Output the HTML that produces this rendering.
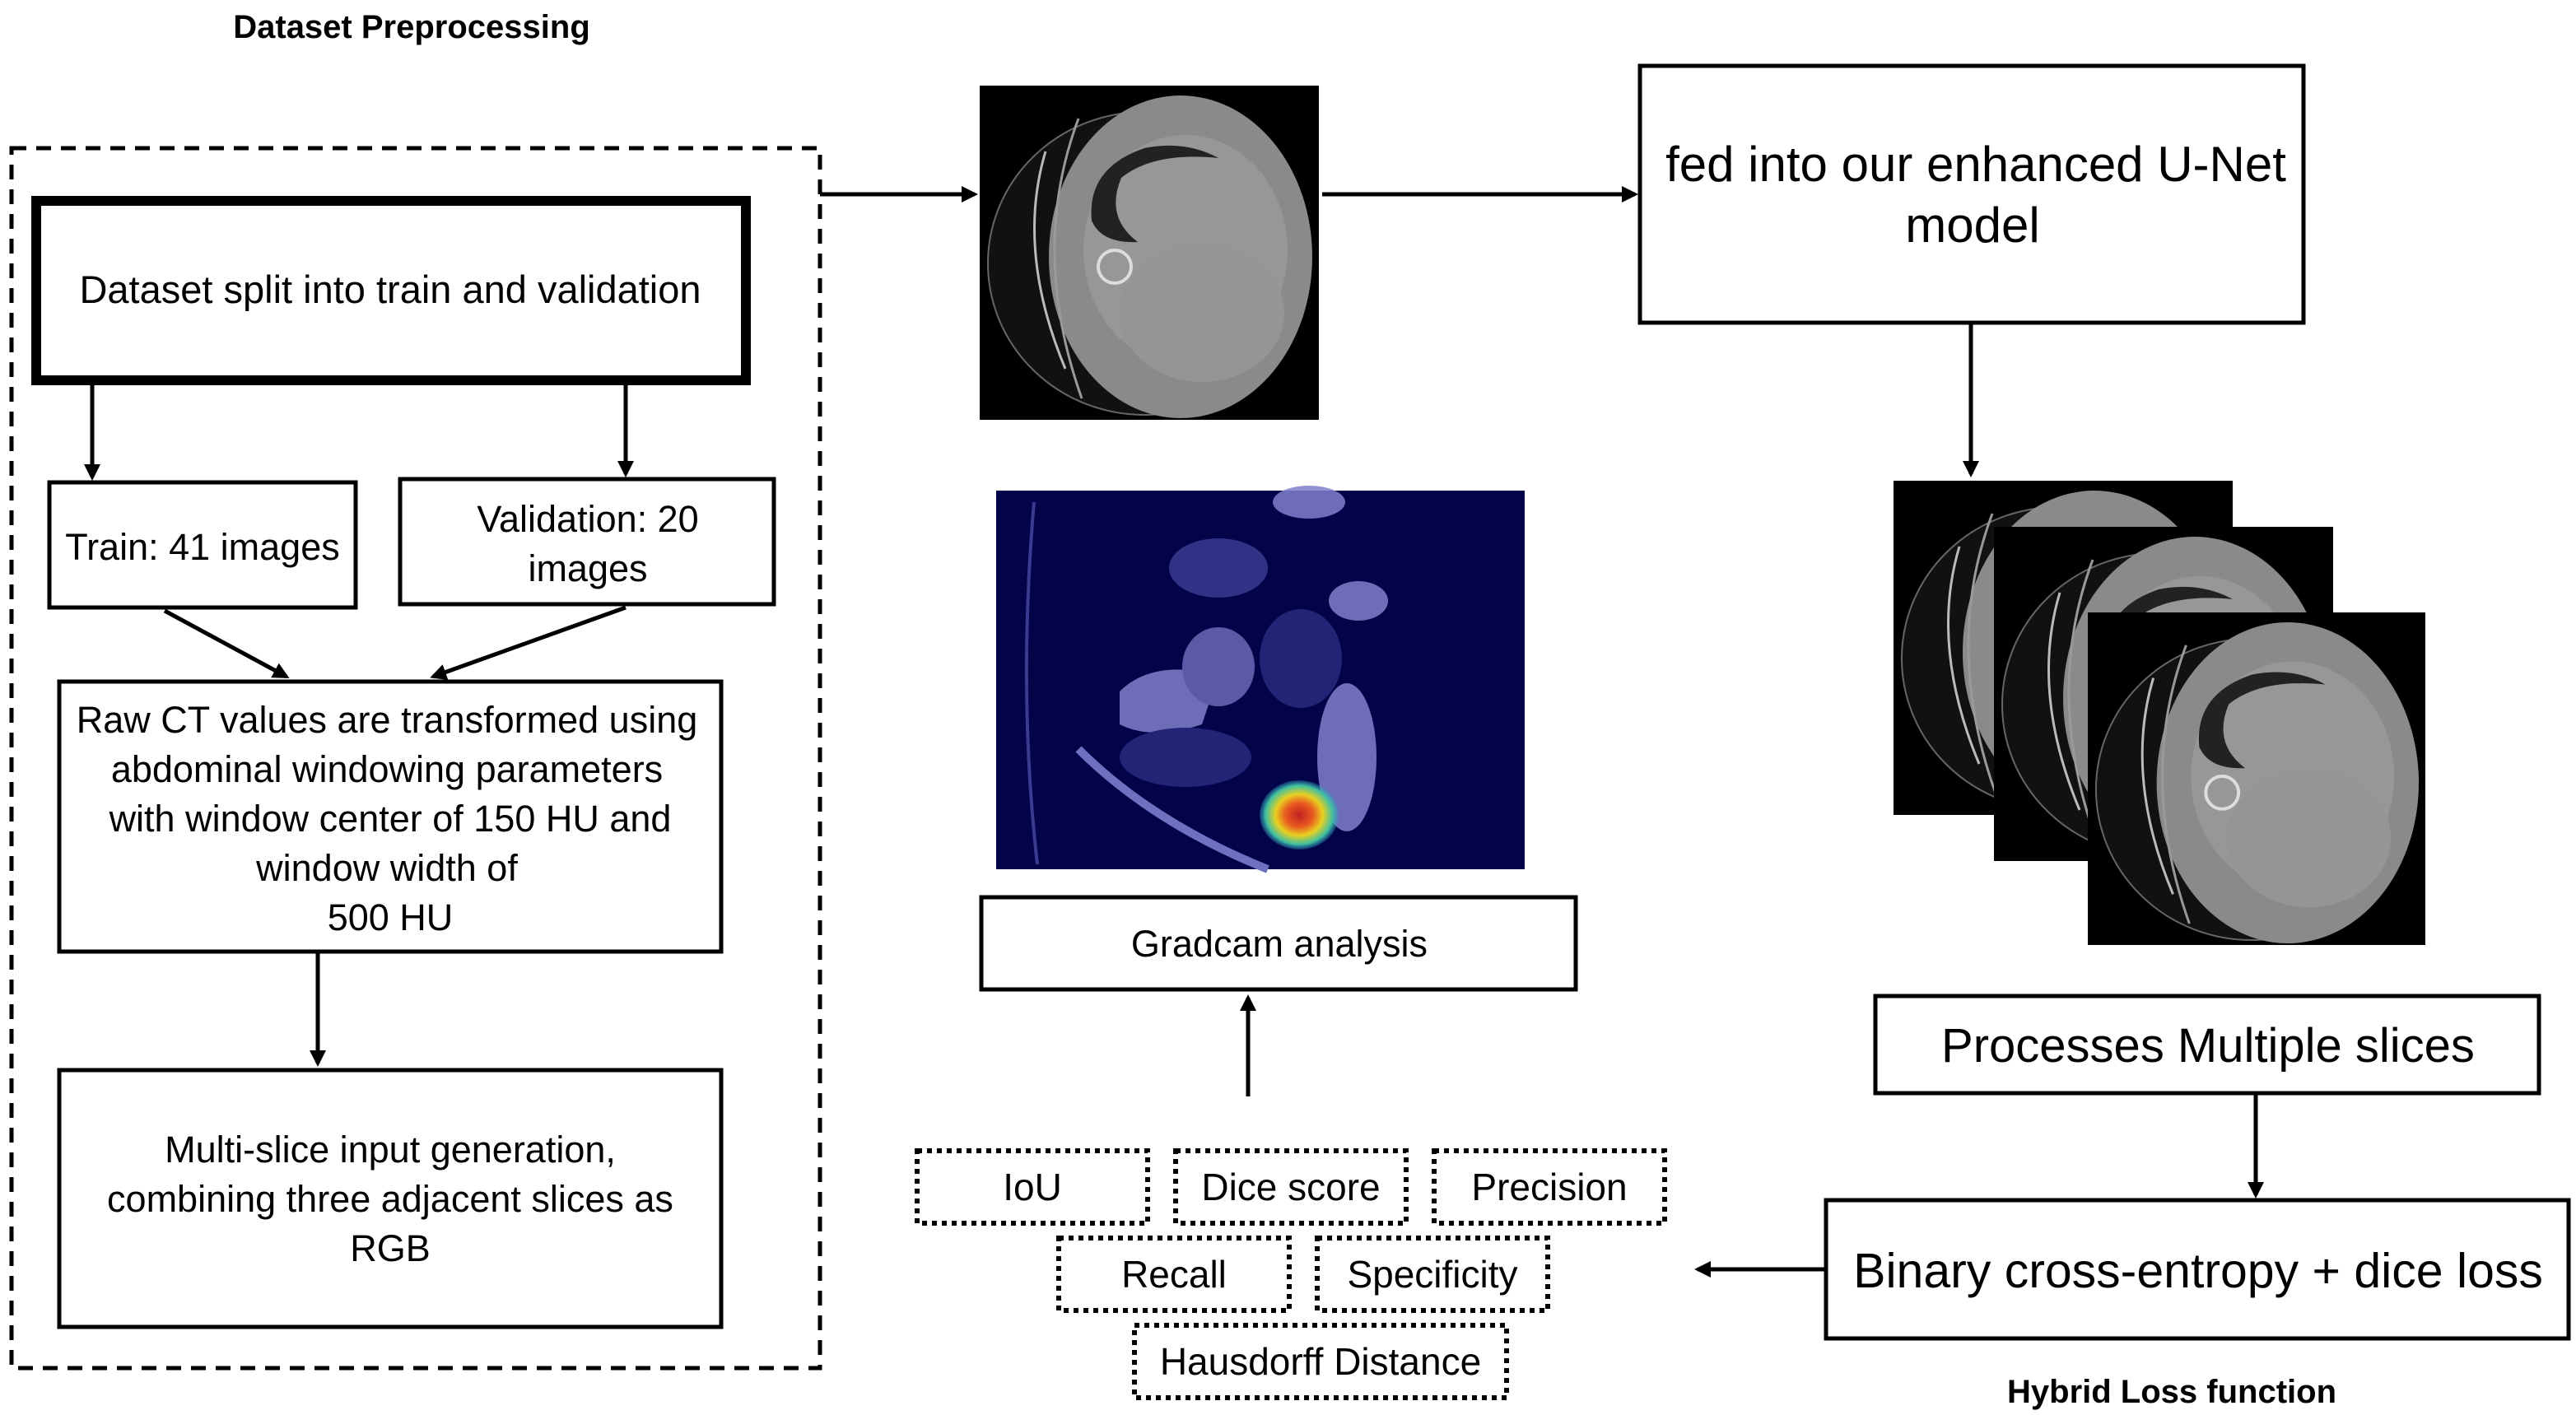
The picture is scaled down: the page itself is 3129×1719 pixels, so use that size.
<!DOCTYPE html>
<html><head><meta charset="utf-8"><style>
html,body{margin:0;padding:0;background:#fff;}
svg{display:block;}
text{font-family:"Liberation Sans",sans-serif;fill:#000;}
</style></head><body>
<svg width="3129" height="1719" viewBox="0 0 1564.5 859.5" xmlns="http://www.w3.org/2000/svg">
<defs>
<marker id="ah" markerWidth="10" markerHeight="10" refX="8" refY="5" orient="auto" markerUnits="userSpaceOnUse">
<path d="M0,0 L10,5 L0,10 z" fill="#000"/>
</marker>
<radialGradient id="hot" cx="50%" cy="50%" r="50%">
<stop offset="0" stop-color="#c02020"/><stop offset="0.35" stop-color="#e85a20"/><stop offset="0.6" stop-color="#e8d020"/><stop offset="0.85" stop-color="#40c0a0"/><stop offset="1" stop-color="#30a0c0" stop-opacity="0.3"/>
</radialGradient>
<symbol id="ct" viewBox="0 0 206 203">
<rect width="206" height="203" fill="#000"/>
<ellipse cx="100" cy="108" rx="95" ry="92" fill="#111" stroke="#666" stroke-width="1"/>
<ellipse cx="122" cy="104" rx="80" ry="98" fill="#8a8a8a"/>
<ellipse cx="125" cy="100" rx="62" ry="70" fill="#979797"/>
<path d="M100,38 Q65,50 68,82 Q74,96 96,95 Q76,80 86,56 Q106,40 145,44 Q125,33 100,38z" fill="#222"/>
<ellipse cx="135" cy="138" rx="50" ry="42" fill="#959595"/>
<circle cx="82" cy="110" r="10" fill="none" stroke="#ddd" stroke-width="2"/>
<path d="M40,40 Q22,100 52,172" stroke="#bbb" stroke-width="1.5" fill="none"/>
<path d="M60,20 Q30,100 62,190" stroke="#999" stroke-width="1.5" fill="none"/>
</symbol>
</defs>

<text x="250" y="23" font-size="20" font-weight="bold" text-anchor="middle">Dataset Preprocessing</text>
<rect x="7" y="90" width="491" height="741" fill="none" stroke="#000" stroke-width="2.5" stroke-dasharray="9,6"/>

<rect x="22" y="122" width="431" height="109" fill="#fff" stroke="#000" stroke-width="6"/>
<text x="237" y="184" font-size="23.5" text-anchor="middle">Dataset split into train and validation</text>

<g stroke="#000" stroke-width="2.5" fill="none">
<line x1="56" y1="233" x2="56" y2="290" marker-end="url(#ah)"/>
<line x1="380" y1="233" x2="380" y2="288" marker-end="url(#ah)"/>
<line x1="100" y1="371" x2="174" y2="411" marker-end="url(#ah)"/>
<line x1="380" y1="369" x2="263" y2="411" marker-end="url(#ah)"/>
<line x1="193" y1="578" x2="193" y2="646" marker-end="url(#ah)"/>
<line x1="498" y1="118" x2="592" y2="118" marker-end="url(#ah)"/>
<line x1="803" y1="118" x2="993" y2="118" marker-end="url(#ah)"/>
<line x1="1197" y1="196" x2="1197" y2="288" marker-end="url(#ah)"/>
<line x1="1370" y1="664" x2="1370" y2="726" marker-end="url(#ah)"/>
<line x1="1109" y1="771" x2="1031" y2="771" marker-end="url(#ah)"/>
<line x1="758" y1="666" x2="758" y2="606" marker-end="url(#ah)"/>
</g>

<rect x="30" y="293" width="186" height="76" fill="none" stroke="#000" stroke-width="2.5"/>
<text x="123" y="340" font-size="22.5" text-anchor="middle">Train: 41 images</text>
<rect x="243" y="291" width="227" height="76" fill="none" stroke="#000" stroke-width="2.5"/>
<text x="357" y="323" font-size="22.5" text-anchor="middle">Validation: 20</text>
<text x="357" y="353" font-size="22.5" text-anchor="middle">images</text>

<rect x="36" y="414" width="402" height="164" fill="none" stroke="#000" stroke-width="2.5"/>
<g font-size="22.5" text-anchor="middle">
<text x="235" y="445">Raw CT values are transformed using</text>
<text x="235" y="475">abdominal windowing parameters</text>
<text x="237" y="505">with window center of 150 HU and</text>
<text x="235" y="535">window width of</text>
<text x="237" y="565">500 HU</text>
</g>

<rect x="36" y="650" width="402" height="156" fill="none" stroke="#000" stroke-width="2.5"/>
<g font-size="22.5" text-anchor="middle">
<text x="237" y="706">Multi-slice input generation,</text>
<text x="237" y="736">combining three adjacent slices as</text>
<text x="237" y="766">RGB</text>
</g>

<use href="#ct" x="595" y="52" width="206" height="203"/>

<rect x="996" y="40" width="403" height="156" fill="none" stroke="#000" stroke-width="2.5"/>
<text x="1200" y="110" font-size="30" text-anchor="middle">fed into our enhanced U-Net</text>
<text x="1198" y="147" font-size="30" text-anchor="middle">model</text>

<use href="#ct" x="1150" y="292" width="206" height="203"/>
<use href="#ct" x="1211" y="320" width="206" height="203"/>
<use href="#ct" x="1267" y="372" width="207" height="202"/>

<rect x="1139" y="605" width="403" height="59" fill="none" stroke="#000" stroke-width="2.5"/>
<text x="1341" y="645" font-size="29" text-anchor="middle">Processes Multiple slices</text>
<rect x="1109" y="729" width="451" height="84" fill="none" stroke="#000" stroke-width="2.5"/>
<text x="1335" y="782" font-size="29.5" text-anchor="middle">Binary cross-entropy + dice loss</text>
<text x="1319" y="852" font-size="20" font-weight="bold" text-anchor="middle">Hybrid Loss function</text>

<!-- gradcam -->
<rect x="605" y="298" width="321" height="230" fill="#03034a"/>
<g fill="#8080cc" opacity="0.85">
<path d="M680,420 Q700,400 740,410 L730,440 Q700,450 680,440z"/>
<ellipse cx="740" cy="405" rx="22" ry="24" fill="#6a6ab8"/>
<ellipse cx="818" cy="460" rx="18" ry="45"/>
<ellipse cx="795" cy="305" rx="22" ry="10"/>
<ellipse cx="825" cy="365" rx="18" ry="12"/>
<ellipse cx="740" cy="345" rx="30" ry="18" fill="#3a3a90"/>
<ellipse cx="720" cy="460" rx="40" ry="18" fill="#2a2a80"/>
<ellipse cx="790" cy="400" rx="25" ry="30" fill="#2a2a80"/>
</g>
<path d="M655,455 Q700,500 770,528" stroke="#7070c0" stroke-width="5" fill="none"/>
<path d="M628,305 Q618,420 630,525" stroke="#3a3a90" stroke-width="2" fill="none"/>
<ellipse cx="789" cy="495" rx="24" ry="21" fill="url(#hot)"/>

<rect x="596" y="545" width="361" height="56" fill="none" stroke="#000" stroke-width="2.5"/>
<text x="777" y="581" font-size="22.5" text-anchor="middle">Gradcam analysis</text>

<g fill="none" stroke="#000" stroke-width="3" stroke-dasharray="3,3">
<rect x="557" y="699" width="140" height="44"/>
<rect x="714" y="699" width="140" height="44"/>
<rect x="871" y="699" width="140" height="44"/>
<rect x="643" y="752" width="140" height="44"/>
<rect x="800" y="752" width="140" height="44"/>
<rect x="689" y="805" width="226" height="44"/>
</g>
<g font-size="23" text-anchor="middle">
<text x="627" y="729">IoU</text>
<text x="784" y="729">Dice score</text>
<text x="941" y="729">Precision</text>
<text x="713" y="782">Recall</text>
<text x="870" y="782">Specificity</text>
<text x="802" y="835">Hausdorff Distance</text>
</g>
</svg>
</body></html>
